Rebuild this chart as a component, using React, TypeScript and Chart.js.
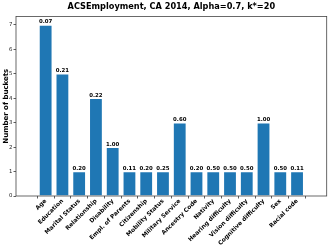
import { useEffect, useRef } from "react";
import { Chart, registerables } from "chart.js";
Chart.register(...registerables);

const categories = [
  "Age", "Education", "Marital Status", "Relationship", "Disability",
  "Empl. of Parents", "Citizenship", "Mobility Status", "Military Service",
  "Ancestry Code", "Nativity", "Hearing difficulty", "Vision difficulty",
  "Cognitive difficulty", "Sex", "Racial code",
];
const bucketCounts = [7, 5, 1, 4, 2, 1, 1, 1, 3, 1, 1, 1, 1, 3, 1, 1];
const barLabels = [
  "0.07", "0.21", "0.20", "0.22", "1.00", "0.11", "0.20", "0.25", "0.60",
  "0.20", "0.50", "0.50", "0.50", "1.00", "0.50", "0.11",
];
const yTickValues = [0, 1, 2, 3, 4, 5, 6, 7];
const titleText = "ACSEmployment, CA 2014, Alpha=0.7, k*=20";
const yAxisTitle = "Number of buckets";

const FONT = '"DejaVu Sans", sans-serif';

const overlay = {
  id: "overlay",
  afterDraw(chart: any) {
    const ctx = chart.ctx as CanvasRenderingContext2D;
    const a = chart.chartArea;
    ctx.save();
    ctx.strokeStyle = "#444";
    ctx.lineWidth = 0.8;
    ctx.strokeRect(a.left, a.top, a.right - a.left, a.bottom - a.top);

    ctx.fillStyle = "#000";
    ctx.textAlign = "center";
    ctx.textBaseline = "middle";
    ctx.font = `bold 8.2px ${FONT}`;
    ctx.fillText(titleText, (a.left + a.right) / 2, 6.5);

    ctx.save();
    ctx.translate(6.3, (a.top + a.bottom) / 2);
    ctx.rotate(-Math.PI / 2);
    ctx.font = `bold 7px ${FONT}`;
    ctx.fillText(yAxisTitle, 0, 0);
    ctx.restore();

    const meta = chart.getDatasetMeta(0);
    ctx.font = `bold 5.4px ${FONT}`;
    ctx.textBaseline = "bottom";
    meta.data.forEach((el: any, i: number) => {
      ctx.fillText(barLabels[i], el.x, el.y - 0.3);
    });

    // rotated category labels (rotation 45, right-aligned at the tick)
    const xs = chart.scales.x;
    ctx.font = `bold 5.9px ${FONT}`;
    ctx.textAlign = "right";
    ctx.textBaseline = "alphabetic";
    categories.forEach((c, i) => {
      const px = xs.getPixelForValue(i);
      ctx.save();
      ctx.translate(px + 1.2, a.bottom + 5.2);
      ctx.rotate(-Math.PI / 4);
      ctx.fillText(c, 0, 0);
      ctx.restore();
    });
    ctx.restore();
  },
};

export default function App() {
  const ref = useRef<HTMLCanvasElement | null>(null);
  useEffect(() => {
    if (!ref.current) return;
    const chart = new Chart(ref.current, {
      type: "bar",
      data: {
        datasets: [
          {
            data: bucketCounts.map((v, i) => ({ x: i, y: v })),
            backgroundColor: "#1f77b4",
            borderColor: "rgba(255,255,255,0.55)",
            borderWidth: 0.8,
            barPercentage: 0.8,
            categoryPercentage: 1,
          },
        ],
      },
      options: {
        animation: false,
        responsive: false,
        devicePixelRatio: 1,
        layout: { padding: { top: 16.4, right: 5.3, left: 0, bottom: 0 } },
        plugins: { legend: { display: false }, tooltip: { enabled: false }, title: { display: false } },
        scales: {
          x: {
            type: "linear",
            min: -1.19,
            max: 16.19,
            afterBuildTicks: (s: any) => {
              s.ticks = categories.map((_, i) => ({ value: i }));
            },
            afterFit: (s: any) => {
              s.height = 53;
              s.paddingLeft = 0;
              s.paddingRight = 0;
            },
            ticks: {
              display: false,
              autoSkip: false,
            },
            grid: { drawOnChartArea: false, tickLength: 2.5, color: "#333", lineWidth: 0.8 },
            border: { display: false },
          },
          y: {
            type: "linear",
            min: 0,
            max: 7.35,
            afterBuildTicks: (s: any) => {
              s.ticks = yTickValues.map((v) => ({ value: v }));
            },
            afterFit: (s: any) => {
              s.width = 16;
              s.paddingTop = 0;
              s.paddingBottom = 0;
            },
            ticks: {
              padding: 1,
              color: "#222",
              font: { family: FONT, size: 5.4 },
            },
            grid: { drawOnChartArea: false, tickLength: 2.5, color: "#333", lineWidth: 0.8 },
            border: { display: false },
          },
        },
      } as any,
      plugins: [overlay],
    });
    return () => chart.destroy();
  }, []);
  return (
    <div style={{ position: "fixed", left: 0, top: 0, width: 332, height: 249, background: "#fff" }}>
      <canvas ref={ref} width={332} height={249} style={{ display: "block" }} />
    </div>
  );
}
